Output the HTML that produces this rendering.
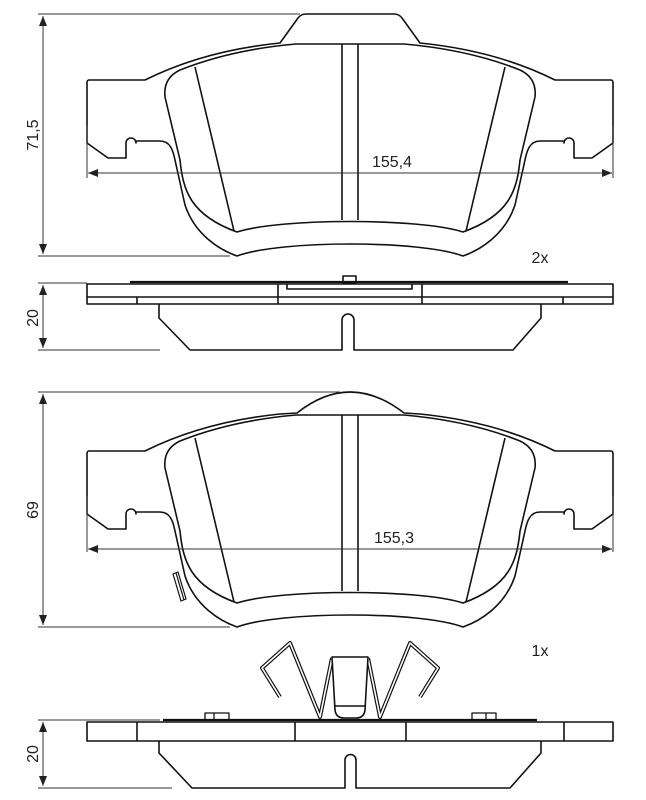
<!DOCTYPE html>
<html><head><meta charset="utf-8"><style>
html,body{margin:0;padding:0;background:#fff;}
svg{display:block;}
text{font-family:"Liberation Sans",sans-serif;font-size:16px;fill:#222;}
</style></head><body>
<svg width="646" height="800" viewBox="0 0 646 800" xmlns="http://www.w3.org/2000/svg">
<defs>
<marker id="a" markerWidth="10" markerHeight="8" refX="10" refY="4" orient="auto-start-reverse" markerUnits="userSpaceOnUse"><path d="M0 0 L10 4 L0 8 Z" fill="#222"/></marker>
</defs>
<g fill="none" stroke="#111" stroke-width="1.6" stroke-linejoin="round">
<!-- TOP PAD -->
<path d="M89 80 L145 80 C185 60 230 48 280 43 L298 18 Q301 14 306 14 L394 14 Q399 14 402 18 L420 43 C470 48 515 60 555 80 L611 80 Q613 80 613 83 L613 143 L592 158 L574 158 L574 143 A5 5 0 0 0 564 143 L564 141 L540 141 C530 141 527 150 525 160 L515 205 C505 235 480 250 463 256 C420 240 280 240 237 256 C220 250 195 235 185 205 L175 160 C173 150 170 141 160 141 L136 141 L136 143 A5 5 0 0 0 126 143 L126 158 L108 158 L87 143 L87 83 Q87 80 89 80 Z"/>
<path d="M296 44 L404 44 C450 48 490 58 520 70 Q537 78 535 97 L520 160 C517 190 510 215 463 232 C420 218 280 218 237 232 C190 215 183 190 180 160 L165 97 Q163 78 180 70 C210 58 250 48 296 44 Z"/>
<path d="M195 67 L234 231 M505 67 L466 231 M342 44 L342 220 M358 44 L358 220"/>
<!-- SIDE 1 -->
<path d="M130 282 L568 282" stroke-width="2.2"/>
<rect x="87" y="284" width="526" height="20"/>
<path d="M87 297 L613 297 M137 297 L137 304 M563 297 L563 304 M278 284 L278 304 M422 284 L422 304"/>
<path d="M287 284 L287 289 L412 289 L412 284"/>
<rect x="343" y="276" width="13" height="7"/>
<path d="M159 304 L159 318 L190 350 L342 350 L342 320 A6 6 0 0 1 354 320 L354 350 L513 350 L541 318 L541 304"/>
<!-- LOWER PAD -->
<g transform="translate(0,371)">
<path d="M89 80 L145 80 C185 60 230 48 280 43 L297 42 Q350 0 404 42 L420 43 C470 48 515 60 555 80 L611 80 Q613 80 613 83 L613 143 L592 158 L574 158 L574 143 A5 5 0 0 0 564 143 L564 141 L540 141 C530 141 527 150 525 160 L515 205 C505 235 480 250 463 256 C420 240 280 240 237 256 C220 250 195 235 185 205 L175 160 C173 150 170 141 160 141 L136 141 L136 143 A5 5 0 0 0 126 143 L126 158 L108 158 L87 143 L87 83 Q87 80 89 80 Z"/>
<path d="M296 44 L404 44 C450 48 490 58 520 70 Q537 78 535 97 L520 160 C517 190 510 215 463 232 C420 218 280 218 237 232 C190 215 183 190 180 160 L165 97 Q163 78 180 70 C210 58 250 48 296 44 Z"/>
<path d="M195 67 L234 231 M505 67 L466 231 M342 44 L342 220 M358 44 L358 220"/>
<path d="M173 203 L178 201 L186 228 L181 230 Z M176 202 L184 229" stroke-width="1.2"/>
</g>
<!-- CLIP -->
<g stroke-width="4"><path d="M280 697 L262 668 L290 643 L320 717 L332 658 M420 697 L438 668 L410 643 L380 717 L368 658"/></g>
<g stroke="#fff" stroke-width="1.6"><path d="M280 697 L262 668 L290 643 L320 717 L332 658 M420 697 L438 668 L410 643 L380 717 L368 658"/></g>
<path d="M332 657 L368 657 L365 710 Q364 718 356 718 L344 718 Q336 718 335 710 Z M335 706 L365 706" fill="#fff"/>
<!-- SIDE 2 -->
<path d="M163 720 L537 720" stroke-width="2.2"/>
<rect x="87" y="722" width="526" height="19"/>
<path d="M137 722 L137 741 M295 722 L295 741 M406 722 L406 741 M564 722 L564 741"/>
<path d="M205 720 L205 713 L229 713 L229 720 M214 713 L214 720 M472 720 L472 713 L496 713 L496 720 M486 713 L486 720" stroke-width="1.3"/>
<path d="M159 741 L159 753 L192 788 L345 788 L345 760 A5.5 5.5 0 0 1 356 760 L356 788 L510 788 L541 753 L541 741"/>
</g>
<!-- DIMENSIONS -->
<g fill="none" stroke="#333" stroke-width="1">
<path d="M38 14 L300 14 M38 256 L230 256"/>
<path d="M43 16 L43 254" marker-start="url(#a)" marker-end="url(#a)"/>
<path d="M87 125 L87 178 M613 125 L613 178"/>
<path d="M88 173 L612 173" marker-start="url(#a)" marker-end="url(#a)"/>
<path d="M38 283 L87 283 M38 350 L160 350"/>
<path d="M43 285 L43 348" marker-start="url(#a)" marker-end="url(#a)"/>
<path d="M38 392 L340 392 M38 627 L230 627"/>
<path d="M43 394 L43 625" marker-start="url(#a)" marker-end="url(#a)"/>
<path d="M87 496 L87 552 M613 496 L613 552"/>
<path d="M88 549 L612 549" marker-start="url(#a)" marker-end="url(#a)"/>
<path d="M38 720 L160 720 M38 788 L172 788"/>
<path d="M43 722 L43 786" marker-start="url(#a)" marker-end="url(#a)"/>
</g>
<text x="392" y="167" text-anchor="middle">155,4</text>
<text x="394" y="543" text-anchor="middle">155,3</text>
<text x="540" y="263" text-anchor="middle">2x</text>
<text x="540" y="656" text-anchor="middle">1x</text>
<text transform="translate(38,135) rotate(-90)" text-anchor="middle">71,5</text>
<text transform="translate(38,318) rotate(-90)" text-anchor="middle">20</text>
<text transform="translate(38,510) rotate(-90)" text-anchor="middle">69</text>
<text transform="translate(38,754) rotate(-90)" text-anchor="middle">20</text>
</svg>
</body></html>
